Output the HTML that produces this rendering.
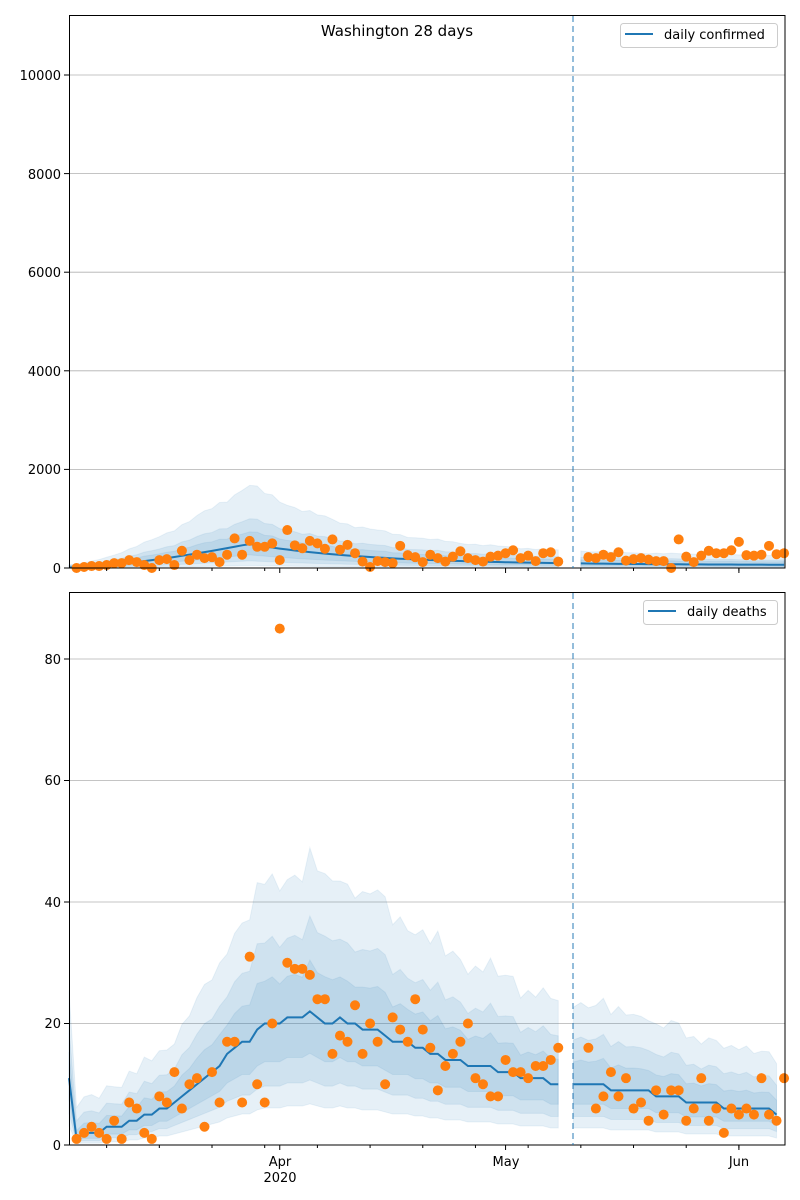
<!DOCTYPE html>
<html><head><meta charset="utf-8"><style>
html,body{margin:0;padding:0;background:#fff}
svg{display:block;font-family:"DejaVu Sans","Liberation Sans",sans-serif}
</style></head><body>
<svg id="s" width="800" height="1200" viewBox="0 0 800 1200" xmlns="http://www.w3.org/2000/svg">
<rect width="800" height="1200" fill="#fff"/>
<g stroke="#b0b0b0" stroke-width="0.8">
<line x1="69" x2="785" y1="469.4" y2="469.4"/><line x1="69" x2="785" y1="370.8" y2="370.8"/><line x1="69" x2="785" y1="272.2" y2="272.2"/><line x1="69" x2="785" y1="173.6" y2="173.6"/><line x1="69" x2="785" y1="75" y2="75"/>
<line x1="69" x2="785" y1="1023.5" y2="1023.5"/><line x1="69" x2="785" y1="902" y2="902"/><line x1="69" x2="785" y1="780.5" y2="780.5"/><line x1="69" x2="785" y1="659" y2="659"/>
</g>
<g id="data"></g>
<g stroke="#000" stroke-width="1">
<line x1="69" x2="64" y1="568" y2="568"/><line x1="69" x2="64" y1="469.4" y2="469.4"/><line x1="69" x2="64" y1="370.8" y2="370.8"/><line x1="69" x2="64" y1="272.2" y2="272.2"/><line x1="69" x2="64" y1="173.6" y2="173.6"/><line x1="69" x2="64" y1="75" y2="75"/>
<line x1="69" x2="64" y1="1145" y2="1145"/><line x1="69" x2="64" y1="1023.5" y2="1023.5"/><line x1="69" x2="64" y1="902" y2="902"/><line x1="69" x2="64" y1="780.5" y2="780.5"/><line x1="69" x2="64" y1="659" y2="659"/>
</g>
<g id="xt" stroke="#000" stroke-width="1"></g>
<g font-size="13" fill="#000" text-anchor="end">
<text x="61" y="573">0</text><text x="61" y="474">2000</text><text x="61" y="376">4000</text><text x="61" y="277">6000</text><text x="61" y="179">8000</text><text x="61" y="80">10000</text>
<text x="61" y="1150">0</text><text x="61" y="1028">20</text><text x="61" y="907">40</text><text x="61" y="785">60</text><text x="61" y="664">80</text>
</g>
<g font-size="13" fill="#000" text-anchor="middle">
<text x="280" y="1166">Apr</text><text x="280" y="1182">2020</text><text x="506" y="1166">May</text><text x="739" y="1166">Jun</text>
<text x="397" y="36" font-size="15">Washington 28 days</text>
</g>
<rect x="69.5" y="15.5" width="715.5" height="552.5" fill="none" stroke="#000" stroke-width="1"/>
<rect x="69.5" y="592.5" width="715.5" height="552.5" fill="none" stroke="#000" stroke-width="1"/>
<g>
<rect x="620.5" y="23.5" width="157" height="24" rx="3" fill="#fff" fill-opacity="0.8" stroke="#ccc"/>
<line x1="625" x2="653" y1="34" y2="34" stroke="#1f77b4" stroke-width="2"/>
<text x="664" y="39" font-size="13">daily confirmed</text>
<rect x="643.5" y="600.5" width="134" height="24" rx="3" fill="#fff" fill-opacity="0.8" stroke="#ccc"/>
<line x1="648" x2="676" y1="611" y2="611" stroke="#1f77b4" stroke-width="2"/>
<text x="687" y="616" font-size="13">daily deaths</text>
</g>
<line x1="573" x2="573" y1="16" y2="568" stroke="#1f77b4" stroke-opacity="0.6" stroke-width="1.6" stroke-dasharray="6,4"/>
<line x1="573" x2="573" y1="593" y2="1145" stroke="#1f77b4" stroke-opacity="0.6" stroke-width="1.6" stroke-dasharray="6,4"/>
</svg>
<script>
var NS="http://www.w3.org/2000/svg";
function X(i){return 69+7.527*i;}
function el(p,t,a){var e=document.createElementNS(NS,t);for(var k in a)e.setAttribute(k,a[k]);p.appendChild(e);return e;}
var data=document.getElementById('data'),xt=document.getElementById('xt');
for(var i=5;i<=95;i+=7){el(xt,'line',{x1:X(i),x2:X(i),y1:568,y2:571});el(xt,'line',{x1:X(i),x2:X(i),y1:1145,y2:1148});}
[28,58,89].forEach(function(i){el(xt,'line',{x1:X(i),x2:X(i),y1:568,y2:573});el(xt,'line',{x1:X(i),x2:X(i),y1:1145,y2:1150});});
var dY=function(v){return 1145-6.075*v;};
var pts=[null,1,2,3,2,1,4,1,7,6,2,1,8,7,12,6,10,11,3,12,7,17,17,7,31,10,7,20,85,30,29,29,28,24,24,15,18,17,23,15,20,17,10,21,19,17,24,19,16,9,13,15,17,20,11,10,8,8,14,12,12,11,13,13,14,16,null,null,null,16,6,8,12,8,11,6,7,4,9,5,9,9,4,6,11,4,6,2,6,5,6,5,11,5,4,11];
var med=[11,1,2,2,2,3,3,3,4,4,5,5,6,6,7,8,9,10,11,12,13,15,16,17,17,19,20,20,20,21,21,21,22,21,20,20,21,20,20,19,19,19,18,17,17,17,16,16,15,15,14,14,14,13,13,13,13,12,12,12,11,11,11,11,10,10,null,10,10,10,10,10,9,9,9,9,9,9,8,8,8,8,7,7,7,7,7,6,6,6,6,6,6,6,5];
function bandPath(arr,lo,hi,yf){
  var segs=[[]];arr.forEach(function(v,i){if(v==null){segs.push([]);}else segs[segs.length-1].push(i);});
  var d='';segs.forEach(function(s){if(s.length<2)return;var up=s.map(function(i){return X(i)+','+yf(hi(arr[i],i));});var dn=s.slice().reverse().map(function(i){return X(i)+','+yf(lo(arr[i],i));});d+='M'+up.join('L')+'L'+dn.join('L')+'Z';});
  return d;}
function linePath(arr,yf){var d='',pen=false;arr.forEach(function(v,i){if(v==null){pen=false;return;}d+=(pen?'L':'M')+X(i)+','+yf(v);pen=true;});return d;}
function nz(i,a){return 1+a*Math.sin(i*1.7)*Math.cos(i*0.9);}
var dB=[[function(m,i){return Math.max(0.3,m*0.33-0.5);},function(m,i){return (m*1.95+4)*nz(i,0.06);}],
        [function(m,i){return Math.max(0.6,m*0.5-0.3);},function(m,i){return (m*1.55+2.3)*nz(i,0.05);}],
        [function(m,i){return Math.max(1,m*0.7-0.3);},function(m,i){return (m*1.3+1)*nz(i,0.04);}]];
dB.forEach(function(b){el(data,'path',{d:bandPath(med,b[0],b[1],dY),fill:'#1f77b4','fill-opacity':0.11,stroke:'#1f77b4','stroke-opacity':0.08});});
el(data,'path',{d:linePath(med,dY),fill:'none',stroke:'#1f77b4','stroke-width':2});
pts.forEach(function(v,i){if(v==null)return;el(data,'circle',{cx:X(i),cy:dY(v),r:5,fill:'#ff7f0e'});});
var cY=function(v){return 568-0.0493*v;};
var cm=[];for(var i=0;i<=95;i++){var v;if(i<24)v=10+480*Math.pow(i/24,1.5);else v=410*Math.exp(-(i-24)/16)+80-i*0.2;cm.push(i==66||i==67?null:v);}
var cB=[[0.1,3.4],[0.3,2.0],[0.55,1.45]];
cB.forEach(function(b){el(data,'path',{d:bandPath(cm,function(m){return m*b[0];},function(m,i){return (m*b[1]+30)*nz(i,0.05);},cY),fill:'#1f77b4','fill-opacity':0.11,stroke:'#1f77b4','stroke-opacity':0.08});});
el(data,'path',{d:linePath(cm,cY),fill:'none',stroke:'#1f77b4','stroke-width':2});
var cp=[null,0,20,40,40,60,100,100,160,120,60,0,160,180,60,350,160,270,200,220,120,270,600,270,550,430,430,500,160,770,460,400,550,500,390,580,370,470,300,130,20,140,120,100,450,260,220,120,270,200,130,230,340,200,160,130,230,250,300,360,200,250,140,300,320,130,null,null,null,220,200,270,220,320,150,180,200,170,140,140,0,580,230,120,250,350,300,300,360,530,260,250,270,450,280,300];
cp.forEach(function(v,i){if(v==null)return;el(data,'circle',{cx:X(i),cy:cY(v),r:5,fill:'#ff7f0e'});});
</script>
</body></html>
